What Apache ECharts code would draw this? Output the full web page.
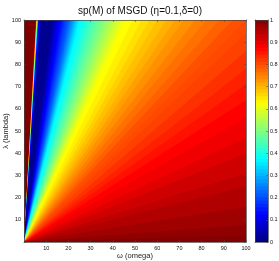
<!DOCTYPE html>
<html><head><meta charset="utf-8">
<style>html,body{margin:0;padding:0;background:#fff}#c{width:279px;height:261px}</style>
<script src="https://cdn.jsdelivr.net/npm/echarts@6/dist/echarts.min.js"></script>
</head><body><div id="c"></div>
<script>
// Fan of colour bands: each band is bounded by a contour from the origin
// to a point on the top or right edge of the plot.
const bandValues = [1,0.85,0.62,0.375,0.125,0.06,0.016,0.03,0.047,0.0625,0.078,0.094,0.11,0.125,0.14,0.156,0.172,0.1875,0.203,0.219,0.234,0.25,0.266,0.281,0.297,0.3125,0.328,0.344,0.36,0.375,0.39,0.406,0.42,0.4375,0.453,0.469,0.484,0.5,0.516,0.531,0.547,0.5625,0.578,0.594,0.61,0.625,0.641,0.656,0.672,0.6875,0.703,0.719,0.734,0.75,0.766,0.781,0.797,0.805,0.812,0.828,0.844,0.859,0.875,0.89,0.906,0.922,0.9375,0.953,0.969,0.984,0.995];
const endOmega = [5.4,5.6,5.9,6.3,7,7.6,12.5,13.2,13.8,14.3,14.8,15.3,15.8,16.5,17.2,17.8,18.4,19.1,19.8,20.4,20.9,21.4,21.9,22.4,22.9,23.3,23.8,24.4,25,26.2,27.4,28.6,29.8,31,32.2,33.6,35,36.2,37.5,38.8,40,41.2,42.6,44,45.5,49,53,56.5,60,64,68,72,77,82,88,94,100,100,100,100,100,100,100,100,100,100,100,100,100,100,100];
const endLambda = [100,100,100,100,100,100,100,100,100,100,100,100,100,100,100,100,100,100,100,100,100,100,100,100,100,100,100,100,100,100,100,100,100,100,100,100,100,100,100,100,100,100,100,100,100,100,100,100,100,100,100,100,100,100,100,100,100,94,86,78,71,64,56,46.8,40,31,25,15.8,7.7,3,0];
const colorbarLevels = [0.008,0.023,0.039,0.055,0.07,0.086,0.102,0.117,0.133,0.148,0.164,0.18,0.195,0.211,0.227,0.242,0.258,0.273,0.289,0.305,0.32,0.336,0.352,0.367,0.383,0.398,0.414,0.43,0.445,0.461,0.477,0.492,0.508,0.523,0.539,0.555,0.57,0.586,0.602,0.617,0.633,0.648,0.664,0.68,0.695,0.711,0.727,0.742,0.758,0.773,0.789,0.805,0.82,0.836,0.852,0.867,0.883,0.898,0.914,0.93,0.945,0.961,0.977,0.992];
const jet = ['#000080','#0000ff','#0080ff','#00ffff','#80ff80','#ffff00','#ff8000','#ff0000','#800000'];
const titleText = 'sp(M) of MSGD (η=0.1,δ=0)';
const xName = 'ω (omega)';
const yName = 'λ (lambda)';

const fan = bandValues.map((v,i)=>[v, i?endOmega[i-1]:0, i?endLambda[i-1]:100]);
const bar = colorbarLevels.map(v=>[v, 0, v-0.008]);

// Each band paints everything clockwise of its start contour; the next band paints over it.
function fanItem(p, api){
  const w=api.value(1), l=api.value(2);
  const pts=[api.coord([0,0]),api.coord([w,l])];
  if(w<100) pts.push(api.coord([100,100]));
  pts.push(api.coord([100,0]));
  return {type:'polygon',shape:{points:pts},style:{fill:api.visual('color')}};
}
// Each colour-key step paints from its lower edge to the top of the key; the next step paints over it.
function barItem(p, api){
  const a=api.coord([0,api.value(2)]),b=api.coord([1,1]);
  return {type:'rect',shape:{x:a[0],y:b[1],width:b[0]-a[0],height:a[1]-b[1]},style:{fill:api.visual('color')}};
}
const line={show:true,onZero:false,lineStyle:{color:'#444',width:0.7}};
const tick={show:true,inside:true,length:2,lineStyle:{color:'#444',width:0.5}};
const lab={fontFamily:'Liberation Sans',fontSize:5.5,color:'#111',margin:3};
const noLab={show:false};
const ch=echarts.init(document.getElementById('c'),null,{renderer:'canvas'});
ch.setOption({
  animation:false,
  title:{text:titleText,left:135,top:1,textAlign:'center',textStyle:{fontFamily:'Liberation Sans',fontSize:10,fontWeight:'normal',color:'#111'}},
  grid:[{left:24,top:20,width:222,height:222,outerBoundsMode:'none',containLabel:false},{left:255,top:20,width:13,height:222,outerBoundsMode:'none',containLabel:false}],
  visualMap:{show:false,type:'continuous',min:0,max:1,dimension:0,seriesIndex:[0,1],inRange:{color:jet}},
  xAxis:[
   {type:'value',gridIndex:0,min:0,max:100,interval:10,position:'bottom',z:5,axisLine:line,axisTick:tick,splitLine:{show:false},
    axisLabel:Object.assign({},lab,{formatter:v=>v===0?'':v}),
    name:xName,nameLocation:'middle',nameGap:10,nameMoveOverlap:false,nameTextStyle:{fontFamily:'Liberation Sans',fontSize:7.5,color:'#222'}},
   {type:'value',gridIndex:0,min:0,max:100,interval:10,position:'top',z:5,axisLine:line,axisTick:tick,axisLabel:noLab,splitLine:{show:false}},
   {type:'value',gridIndex:1,min:0,max:1,position:'bottom',z:5,axisLine:line,axisTick:{show:false},axisLabel:noLab,splitLine:{show:false}},
   {type:'value',gridIndex:1,min:0,max:1,position:'top',z:5,axisLine:line,axisTick:{show:false},axisLabel:noLab,splitLine:{show:false}}
  ],
  yAxis:[
   {type:'value',gridIndex:0,min:0,max:100,interval:10,position:'left',z:5,axisLine:line,axisTick:tick,splitLine:{show:false},
    axisLabel:Object.assign({},lab,{formatter:v=>v===0?'':v}),
    name:yName,nameLocation:'middle',nameGap:14,nameMoveOverlap:false,nameRotate:90,nameTextStyle:{fontFamily:'Liberation Sans',fontSize:7.5,color:'#222'}},
   {type:'value',gridIndex:0,min:0,max:100,interval:10,position:'right',z:5,axisLine:line,axisTick:tick,axisLabel:noLab,splitLine:{show:false}},
   {type:'value',gridIndex:1,min:0,max:1,interval:0.1,position:'right',z:5,axisLine:line,axisTick:tick,splitLine:{show:false},
    axisLabel:Object.assign({},lab,{margin:2,formatter:v=>String(+v.toFixed(1))})},
   {type:'value',gridIndex:1,min:0,max:1,interval:0.1,position:'left',z:5,axisLine:line,axisTick:{show:false},axisLabel:noLab,splitLine:{show:false}}
  ],
  series:[
   {type:'custom',xAxisIndex:0,yAxisIndex:0,coordinateSystem:'cartesian2d',data:fan,encode:{x:1,y:2},renderItem:fanItem,silent:true,clip:true},
   {type:'custom',xAxisIndex:2,yAxisIndex:2,coordinateSystem:'cartesian2d',data:bar,encode:{x:1,y:2},renderItem:barItem,silent:true,clip:true}
  ]
});
</script></body></html>
